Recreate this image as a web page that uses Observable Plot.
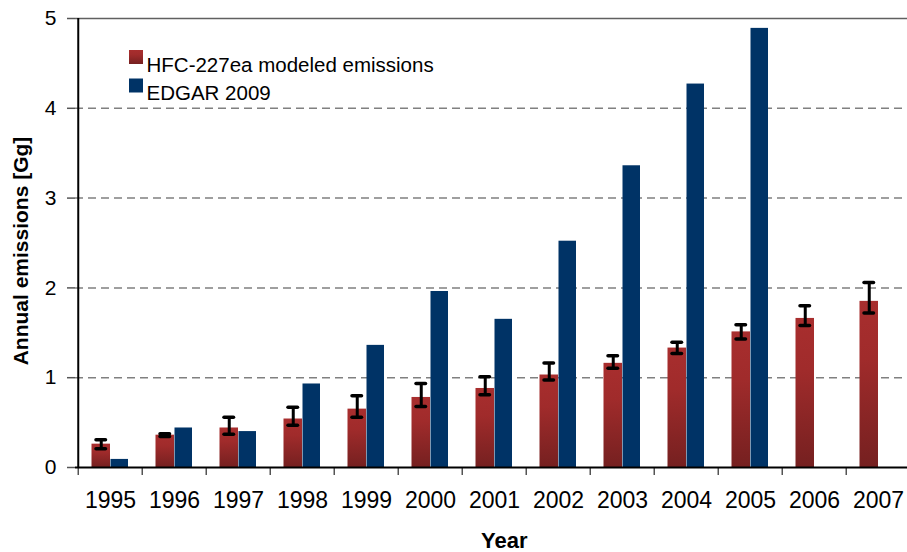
<!DOCTYPE html>
<html>
<head>
<meta charset="utf-8">
<script src="https://cdn.jsdelivr.net/npm/d3@7"></script>
<script src="https://cdn.jsdelivr.net/npm/@observablehq/plot@0.6"></script>
<style>
  html, body { margin: 0; padding: 0; background: #fff; }
  #chart { width: 907px; height: 552px; overflow: hidden; }
</style>
</head>
<body>
<div id="chart"></div>
<script>
const years = [1995, 1996, 1997, 1998, 1999, 2000, 2001, 2002, 2003, 2004, 2005, 2006, 2007];
const hfcValues = [0.26, 0.36, 0.44, 0.54, 0.65, 0.78, 0.88, 1.03, 1.16, 1.33, 1.51, 1.66, 1.85];
const hfcLow  = [0.21, 0.345, 0.37, 0.47, 0.56, 0.68, 0.81, 0.975, 1.105, 1.27, 1.43, 1.58, 1.72];
const hfcHigh = [0.31, 0.375, 0.56, 0.67, 0.80, 0.935, 1.01, 1.165, 1.245, 1.395, 1.59, 1.80, 2.06];
const edgarValues = [0.09, 0.44, 0.40, 0.93, 1.36, 1.96, 1.65, 2.52, 3.36, 4.27, 4.89, null, null];
const yTicks = [0, 1, 2, 3, 4, 5];
const gridTicks = [1, 2, 3, 4];
const seriesNames = ["HFC-227ea modeled emissions", "EDGAR 2009"];

const hfc = years.map((year, i) => ({year, value: hfcValues[i], lo: hfcLow[i], hi: hfcHigh[i]}));
const edgar = years.map((year, i) => ({year, value: edgarValues[i]})).filter(d => d.value != null);

const font = "'Liberation Sans', Arial, sans-serif";
const redFill = "url(#gradRed)";
const blueFill = "#003366";

const plot = Plot.plot({
  width: 907,
  height: 552,
  marginLeft: 75,
  marginRight: -6.5,
  marginTop: 18,
  marginBottom: 85,
  style: {fontFamily: font, fontSize: "21px", color: "#000", background: "#fff"},
  x: {type: "band", domain: years, padding: 0},
  y: {domain: [0, 5]},
  marks: [
    Plot.ruleY(gridTicks, {stroke: "#808080", strokeWidth: 1.5, strokeDasharray: "8,5"}),
    Plot.ruleY([5], {stroke: "#606060", strokeWidth: 1.5}),
    Plot.barY(hfc, {x: "year", y: "value", fill: redFill, insetLeft: 13.5, insetRight: 32}),
    Plot.barY(edgar, {x: "year", y: "value", fill: blueFill, insetLeft: 32.5, insetRight: 14}),
    Plot.ruleX(hfc, {x: "year", y1: "lo", y2: "hi", dx: -9.25, stroke: "#000", strokeWidth: 3}),
    Plot.tickY(hfc, {x: "year", y: "lo", insetLeft: 18, insetRight: 36.5, stroke: "#000", strokeWidth: 3.5, strokeLinecap: "round"}),
    Plot.tickY(hfc, {x: "year", y: "hi", insetLeft: 18, insetRight: 36.5, stroke: "#000", strokeWidth: 3.5, strokeLinecap: "round"}),
    // category boundary ticks
    Plot.ruleX(years, {x: d => d, dx: -32.25, y1: 0, y2: -0.09, stroke: "#555", strokeWidth: 1.5}),
    // left axis line
    Plot.ruleX([years[0]], {x: d => d, dx: -32.25, y1: 0, y2: 5, stroke: "#000", strokeWidth: 2}),
    // bottom axis line
    Plot.ruleY([0], {stroke: "#000", strokeWidth: 2}),
    Plot.axisY(yTicks, {tickSize: 8, tickPadding: 11, fontSize: 21, label: null, tickFormat: d => String(d), stroke: "#555", strokeWidth: 1.5}),
    Plot.axisX({tickSize: 0, tickPadding: 24, fontSize: 23, label: null, tickFormat: d => String(d)}),
    // legend
    Plot.dot([seriesNames[0]], {frameAnchor: "top-left", dx: 60.5, dy: 38.5, symbol: "square", r: 7.9, fill: redFill}),
    Plot.dot([seriesNames[1]], {frameAnchor: "top-left", dx: 60.5, dy: 67, symbol: "square", r: 7.9, fill: blueFill}),
    Plot.text([seriesNames[0]], {frameAnchor: "top-left", dx: 71, dy: 38.5, text: d => d, textAnchor: "start", fontSize: 20.5, fill: "#000"}),
    Plot.text([seriesNames[1]], {frameAnchor: "top-left", dx: 71, dy: 67, text: d => d, textAnchor: "start", fontSize: 20.5, fill: "#000"}),
    // axis titles
    Plot.text(["Year"], {frameAnchor: "bottom", dx: 9.5, dy: 80, text: d => d, fontSize: 22, fontWeight: "bold", fill: "#000"}),
    Plot.text(["Annual emissions [Gg]"], {frameAnchor: "left", dx: -54, dy: 8, rotate: -90, textAnchor: "middle", text: d => d, fontSize: 21, fontWeight: "bold", fill: "#000"})
  ]
});

const svgns = "http://www.w3.org/2000/svg";
const defs = document.createElementNS(svgns, "defs");
defs.innerHTML = `
  <linearGradient id="gradRed" x1="0" y1="0" x2="0" y2="1">
    <stop offset="0%" stop-color="#a82e2e"/>
    <stop offset="35%" stop-color="#a02b2b"/>
    <stop offset="100%" stop-color="#752020"/>
  </linearGradient>`;
plot.insertBefore(defs, plot.firstChild);
document.getElementById("chart").appendChild(plot);
</script>
</body>
</html>
